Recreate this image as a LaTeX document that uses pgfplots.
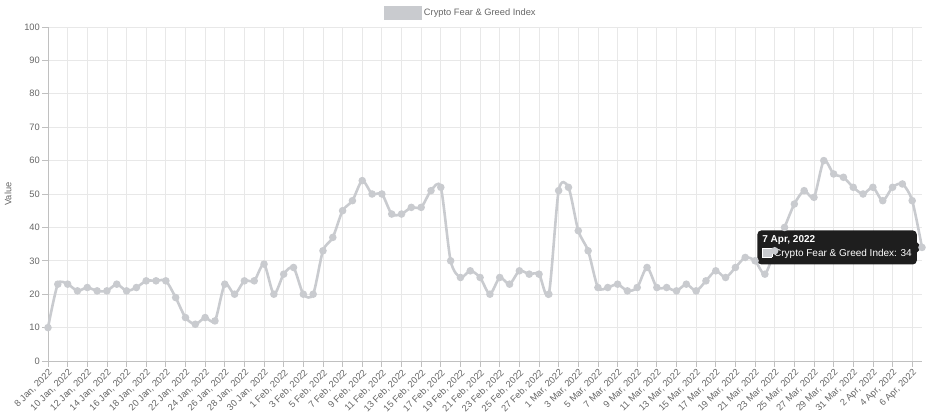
\documentclass[border=0pt]{standalone}
\usepackage{fontspec}
\setmainfont{Liberation Sans}
\usepackage{pgfplots}
\usepackage{pgfplotstable}
\pgfplotsset{compat=1.18}

\definecolor{linegray}{RGB}{201,203,207}
\definecolor{gridgray}{RGB}{232,232,232}
\definecolor{axisgray}{RGB}{192,192,192}
\definecolor{txtgray}{RGB}{102,102,102}
\definecolor{tipbg}{RGB}{30,30,30}

% day 0 = 8 Jan 2022
\pgfplotstableread{
day value
0 10
1 23
2 23
3 21
4 22
5 21
6 21
7 23
8 21
9 22
10 24
11 24
12 24
13 19
14 13
15 11
16 13
17 12
18 23
19 20
20 24
21 24
22 29
23 20
24 26
25 28
26 20
27 20
28 33
29 37
30 45
31 48
32 54
33 50
34 50
35 44
36 44
37 46
38 46
39 51
40 52
41 30
42 25
43 27
44 25
45 20
46 25
47 23
48 27
49 26
50 26
51 20
52 51
53 52
54 39
55 33
56 22
57 22
58 23
59 21
60 22
61 28
62 22
63 22
64 21
65 23
66 21
67 24
68 27
69 25
70 28
71 31
72 30
73 26
74 33
75 40
76 47
77 51
78 49
79 60
80 56
81 55
82 52
83 50
84 52
85 48
86 52
87 53
88 48
89 34
}\fgdata

\newcommand{\smallfont}{\fontsize{9.3bp}{11bp}\selectfont}

\begin{document}
\begin{tikzpicture}
\begin{axis}[
    at={(48bp,59bp)}, anchor=south west,
    scale only axis, width=874bp, height=334bp,
    xmin=0, xmax=89, ymin=0, ymax=100,
    clip=false,
    axis lines*=left,
    axis line style={axisgray, line width=1bp},
    grid=major,
    major grid style={gridgray, line width=0.8bp},
    tick align=outside,
    major tick length=6bp,
    tick style={axisgray, line width=0.8bp},
    xtick={0,2,...,88},
    xticklabels={{8 Jan, 2022},{10 Jan, 2022},{12 Jan, 2022},{14 Jan, 2022},
        {16 Jan, 2022},{18 Jan, 2022},{20 Jan, 2022},{22 Jan, 2022},
        {24 Jan, 2022},{26 Jan, 2022},{28 Jan, 2022},{30 Jan, 2022},
        {1 Feb, 2022},{3 Feb, 2022},{5 Feb, 2022},{7 Feb, 2022},
        {9 Feb, 2022},{11 Feb, 2022},{13 Feb, 2022},{15 Feb, 2022},
        {17 Feb, 2022},{19 Feb, 2022},{21 Feb, 2022},{23 Feb, 2022},
        {25 Feb, 2022},{27 Feb, 2022},{1 Mar, 2022},{3 Mar, 2022},
        {5 Mar, 2022},{7 Mar, 2022},{9 Mar, 2022},{11 Mar, 2022},
        {13 Mar, 2022},{15 Mar, 2022},{17 Mar, 2022},{19 Mar, 2022},
        {21 Mar, 2022},{23 Mar, 2022},{25 Mar, 2022},{27 Mar, 2022},
        {29 Mar, 2022},{31 Mar, 2022},{2 Apr, 2022},{4 Apr, 2022},
        {6 Apr, 2022}},
    x tick label style={rotate=45, anchor=north east, font=\smallfont,
        text=txtgray, inner sep=1bp},
    ytick={0,10,...,100},
    y tick label style={font=\smallfont, text=txtgray, inner sep=2bp},
    /pgf/number format/assume math mode=true,
    ylabel={Value},
    every axis y label/.style={at={(axis description cs:-0.0458,0.5)},
        rotate=90, anchor=center},
    ylabel style={font=\smallfont, text=txtgray},
    legend style={draw=none, fill=none, at={(0.4725,1.042)}, anchor=center,
        font=\smallfont, text=txtgray},
    legend image code/.code={\fill[linegray] (0bp,-5.5bp) rectangle (35bp,5.5bp);},
]
\addplot[linegray, line width=2.6bp, smooth, tension=0.45,
    mark=*, mark size=2.4bp, mark options={fill=linegray, draw=linegray}]
    table[x=day, y=value] {\fgdata};
\addlegendentry{Crypto Fear \& Greed Index}

% hover tooltip on the last point
\node[name=tip, fill=tipbg, rounded corners=4bp, anchor=east, text=white,
    align=left, font=\fontsize{10bp}{12bp}\selectfont, inner xsep=5bp, inner ysep=5.5bp]
    at (axis cs:89,34) [xshift=-5bp]
    {\textbf{7 Apr, 2022}\\[2bp]{\fboxsep=0pt\fboxrule=0.8bp\fcolorbox{white}{linegray}{\rule{0pt}{8.5bp}\hspace{8.5bp}}}\,Crypto Fear \& Greed Index: 34};
\fill[tipbg] ([yshift=5bp]tip.east) -- ++(5bp,-5bp) -- ++(-5bp,-5bp) -- cycle;
\end{axis}
\pgfresetboundingbox
\path[use as bounding box] (0,0) rectangle (928bp,420bp);
\end{tikzpicture}
\end{document}
